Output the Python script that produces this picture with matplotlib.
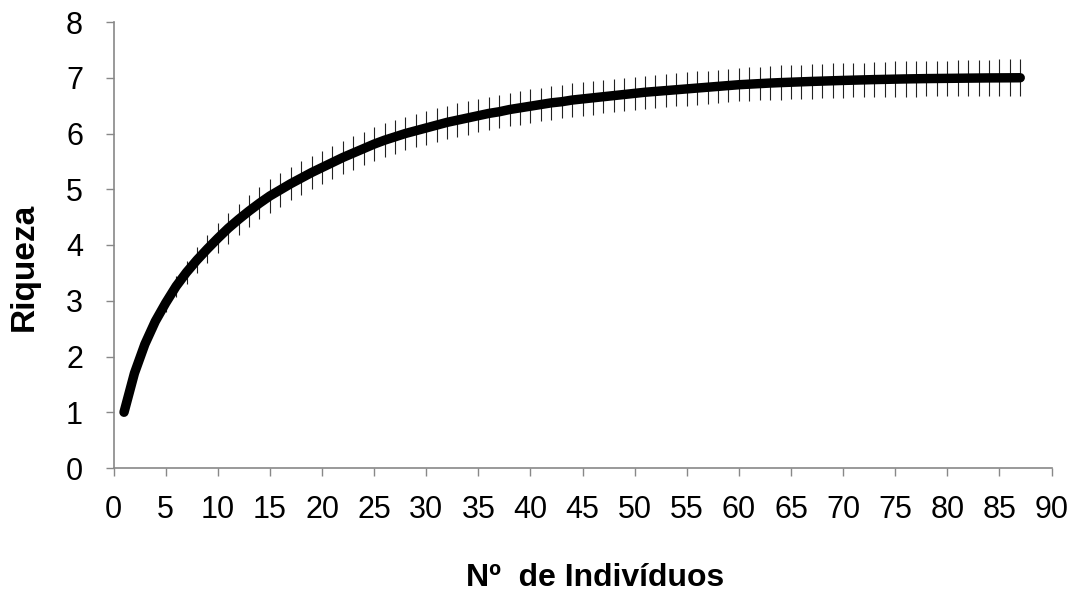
import matplotlib
matplotlib.use("Agg")
import matplotlib.pyplot as plt

plt.rcParams['font.family'] = ['Liberation Sans', 'DejaVu Sans']

individuals = list(range(1, 88))
richness = [
    1.00, 1.70, 2.22, 2.63, 2.96, 3.26, 3.51, 3.73, 3.93, 4.12,
    4.30, 4.46, 4.61, 4.75, 4.88, 4.99, 5.10, 5.20, 5.30, 5.39,
    5.48, 5.57, 5.65, 5.73, 5.81, 5.88, 5.94, 6.00, 6.05, 6.10,
    6.15, 6.20, 6.24, 6.28, 6.32, 6.36, 6.39, 6.43, 6.46, 6.49,
    6.52, 6.55, 6.57, 6.60, 6.62, 6.64, 6.66, 6.68, 6.70, 6.72,
    6.74, 6.755, 6.77, 6.785, 6.80, 6.815, 6.83, 6.845, 6.86, 6.875,
    6.885, 6.895, 6.905, 6.913, 6.92, 6.927, 6.934, 6.94, 6.946, 6.952,
    6.957, 6.962, 6.967, 6.971, 6.975, 6.979, 6.982, 6.985, 6.987, 6.989,
    6.991, 6.993, 6.995, 6.997, 6.998, 6.999, 7.00,
]
error = [
    0.00, 0.08, 0.12, 0.15, 0.17, 0.19, 0.21, 0.23, 0.25, 0.27,
    0.28, 0.28, 0.29, 0.29, 0.30, 0.30, 0.30, 0.30, 0.30, 0.30,
    0.30, 0.30, 0.30, 0.30, 0.30, 0.30, 0.30, 0.30, 0.30, 0.30,
    0.30, 0.30, 0.30, 0.30, 0.30, 0.30, 0.30, 0.30, 0.30, 0.30,
    0.30, 0.30, 0.30, 0.30, 0.30, 0.30, 0.30, 0.30, 0.30, 0.30,
    0.30, 0.30, 0.30, 0.30, 0.30, 0.30, 0.30, 0.30, 0.30, 0.30,
    0.30, 0.30, 0.31, 0.31, 0.31, 0.31, 0.31, 0.31, 0.31, 0.31,
    0.31, 0.31, 0.32, 0.32, 0.32, 0.32, 0.32, 0.32, 0.32, 0.32,
    0.32, 0.32, 0.33, 0.33, 0.33, 0.33, 0.33,
]
x_ticks = list(range(0, 91, 5))
y_ticks = list(range(0, 9))

W, H = 1075, 595
fig = plt.figure(figsize=(W / 100, H / 100), dpi=100)
ax = fig.add_axes([113.6 / W, 1 - 468 / H, (1051.5 - 113.6) / W, (468 - 22) / H])

ax.errorbar(individuals, richness, yerr=error, fmt='none', ecolor='#222222',
            elinewidth=0.8, capsize=0, zorder=2)
ax.plot(individuals, richness, color='black', linewidth=6.8,
        solid_capstyle='round', solid_joinstyle='round', zorder=3)

ax.set_xlim(0, 90)
ax.set_ylim(0, 8)
ax.set_xticks(x_ticks)
ax.set_yticks(y_ticks)
ax.tick_params(axis='x', direction='out', length=6, width=1.0, color='#888888',
               labelsize=22, pad=13.5)
ax.tick_params(axis='y', direction='out', length=6, width=1.0, color='#888888',
               labelsize=22, pad=16)
for s in ['top', 'right']:
    ax.spines[s].set_visible(False)
for s in ['left', 'bottom']:
    ax.spines[s].set_color('#888888')
    ax.spines[s].set_linewidth(1.2)

ax.set_xlabel('Nº  de Indivíduos', fontsize=23, fontweight='bold', va='baseline')
ax.xaxis.set_label_coords(595 / W, 1 - 586 / H, transform=fig.transFigure)
ax.set_ylabel('Riqueza', fontsize=24, fontweight='bold', va='center')
ax.yaxis.set_label_coords(24 / W, 1 - 267 / H, transform=fig.transFigure)

fig.savefig('out.png', dpi=100)
